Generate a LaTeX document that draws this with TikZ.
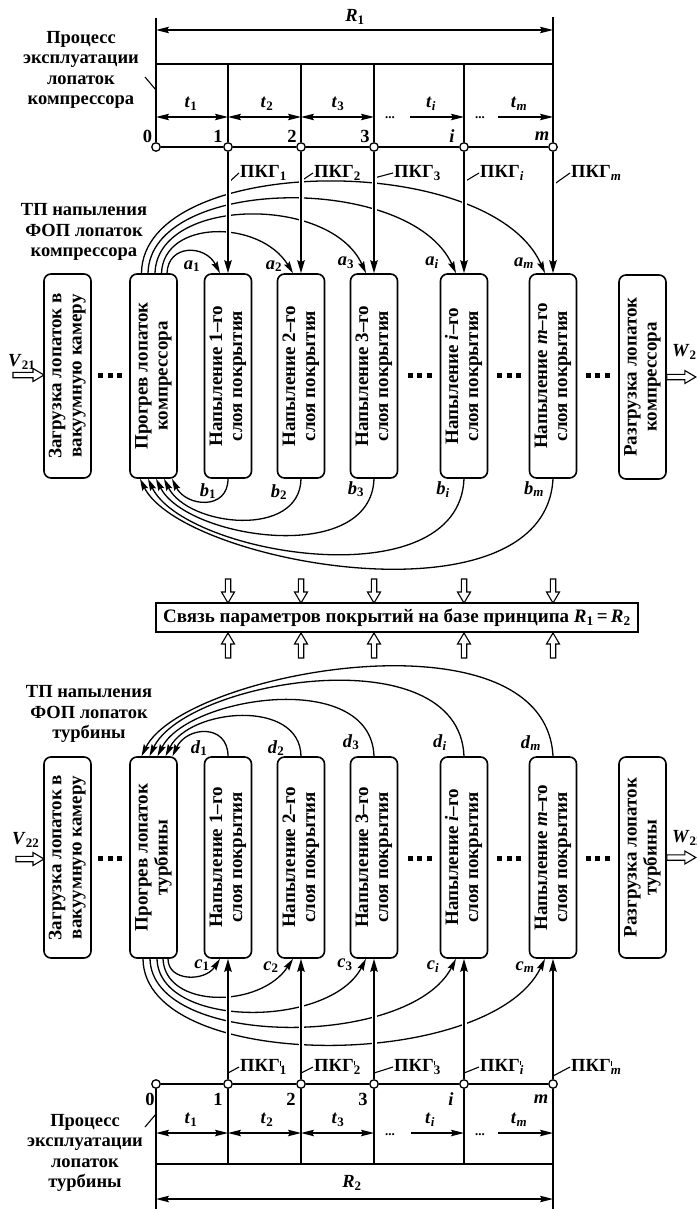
\documentclass[tikz,border=0pt]{standalone}
\usepackage{fontspec}
\setmainfont{Liberation Serif}
\usepackage{graphicx}
\usetikzlibrary{arrows.meta,calc}
\newcommand\bxt[2]{\rotatebox{90}{\begin{tabular}{@{}c@{}}#1\\#2\end{tabular}}}
\newcommand\vrb[2]{\textit{#1}\textsubscript{#2}}
\newcommand\pkgs[1]{ПКГ\textsubscript{#1}}
\newcommand\pkgq[1]{ПКГ\rlap{\textsuperscript{\rule{0.7pt}{4.5pt}}}\textsubscript{#1}}
\tikzset{
  pics/harr/.style={code={\draw[line width=1.1pt,fill=white,line join=miter] (0,-2.7) -- (#1-11,-2.7) -- (#1-11,-6.5) -- (#1,0) -- (#1-11,6.5) -- (#1-11,2.7) -- (0,2.7) -- cycle;}},
  pics/ell/.style={code={\fill (-12,-2.5) rectangle (-7,2.5); \fill (-2.5,-2.5) rectangle (2.5,2.5); \fill (7,-2.5) rectangle (12,2.5);}}
}
\begin{document}
\begin{tikzpicture}[x=1pt,y=-1pt,
  lbl/.style={font=\fontsize{18.5}{20.5}\selectfont\bfseries, inner sep=0pt, align=center},
  vlab/.style={font=\fontsize{18.5}{20}\selectfont\bfseries, inner sep=0pt},
  plab/.style={font=\fontsize{18.5}{20}\selectfont\bfseries, inner sep=1pt, anchor=west},
  box/.style={draw, line width=1.6pt, rounded corners=7pt, minimum width=47pt, inner sep=0pt, font=\fontsize{19}{20}\selectfont\bfseries},
  thk/.style={line width=1.7pt},
  thn/.style={line width=1.1pt},
  arr/.style={line width=1.6pt, -{Stealth[length=13pt,width=7.5pt,inset=2pt]}},
  darr/.style={line width=1.3pt, {Stealth[length=13pt,width=6.5pt,inset=2pt]}-{Stealth[length=13pt,width=6.5pt,inset=2pt]}},
  rarr/.style={line width=1.3pt, -{Stealth[length=13pt,width=6.5pt,inset=2pt]}},
  crv/.style={line width=1.3pt, -{Stealth[length=12pt,width=6.5pt,inset=2pt]}},
  tdot/.style={circle, draw, fill=white, line width=1.3pt, minimum size=8.5pt, inner sep=0pt},
  wgap/.style={draw=white, line width=5pt}
]
\useasboundingbox (0,0) rectangle (696,1209);

% ================= TOP TIMELINE =================
\node[lbl] (proc1) at (81,70) {Процесс\\эксплуатации\\лопаток\\компрессора};
\draw[thn] (145,77) -- (156,90);
\coordinate (ttop) at (0,64);
\coordinate (tarr) at (0,117);
\coordinate (rY1) at (0,30);
\node[tdot] (tc0) at (156,147) {};
\node[tdot] (tc1) at (228,147) {};
\node[tdot] (tc2) at (301,147) {};
\node[tdot] (tc3) at (374,147) {};
\node[tdot] (tc4) at (464,147) {};
\node[tdot] (tc5) at (553,147) {};
\coordinate (rl1) at (156,18);
\coordinate (rr1) at (553,17);
\draw[thn] (rl1) -- (tc0);
\draw[thn] (rr1) -- (tc5);
\draw[thk] (tc0|-ttop) -- (tc5|-ttop);
\foreach \k in {1,...,4} \draw[thk] (tc\k|-ttop) -- (tc\k);
\draw[thk] (tc0) -- (tc1); \draw[thk] (tc1) -- (tc2); \draw[thk] (tc2) -- (tc3);
\draw[thk] (tc3) -- (tc4); \draw[thk] (tc4) -- (tc5);
\draw[darr] (tc0|-rY1) -- (tc5|-rY1);
\node[vlab] (R1) at (355,17) {\vrb{R}{1}};
\draw[darr] (tc0|-tarr) -- (tc1|-tarr);
\draw[darr] (tc1|-tarr) -- (tc2|-tarr);
\draw[darr] (tc2|-tarr) -- (tc3|-tarr);
\coordinate (ti0) at (410,117);
\coordinate (tm0) at (498,117);
\draw[rarr] (ti0) -- (tc4|-tarr);
\draw[rarr] (tm0) -- (tc5|-tarr);
\node[font=\fontsize{13}{13}\selectfont\bfseries, anchor=base] (dd1) at (390,119) {...};
\node[font=\fontsize{13}{13}\selectfont\bfseries, anchor=base] (dd2) at (480,119) {...};
\node[vlab] (tt1) at (191,104) {\vrb{t}{1}};
\node[vlab] (tt2) at (267,104) {\vrb{t}{2}};
\node[vlab] (tt3) at (338,104) {\vrb{t}{3}};
\node[vlab] (tt4) at (431,104) {\vrb{t}{\textit{i}}};
\node[vlab] (tt5) at (519,104) {\vrb{t}{\textit{m}}};
\node[vlab] (n0) at (147.5,136) {0};
\node[vlab] (n1) at (218,136) {1};
\node[vlab] (n2) at (292,136) {2};
\node[vlab] (n3) at (365,136) {3};
\node[vlab] (n4) at (452,136) {\textit{i}};
\node[vlab] (n5) at (542,136) {\textit{m}};

% ПКГ labels
\node[plab] (pk1) at (239,173) {\pkgs{1}};
\node[plab] (pk2) at (313,173) {\pkgs{2}};
\node[plab] (pk3) at (393,173) {\pkgs{3}};
\node[plab] (pk4) at (479,173) {\pkgs{\textit{i}}};
\node[plab] (pk5) at (570,173) {\pkgs{\textit{m}}};
\draw[thn] (228,183) -- (pk1.west);
\draw[thn] (301,181) -- (pk2.west);
\draw[thn] (374,178) -- (pk3.west);
\draw[thn] (464,182) -- (pk4.west);
\draw[thn] (553,185) -- (pk5.west);

\node[lbl] (tp1) at (84,232) {ТП напыления\\ФОП лопаток\\компрессора};

% ================= TOP BOXES =================
\node[box, minimum height=204pt] (za) at (67.5,376) {\bxt{Загрузка лопаток в}{вакуумную камеру}};
\node[box, minimum height=204pt] (pr) at (153.5,376) {\bxt{Прогрев лопаток}{компрессора}};
\node[box, minimum height=204pt] (pa1) at (228,376) {\bxt{Напыление 1–го}{слоя покрытия}};
\node[box, minimum height=204pt] (pa2) at (301,376) {\bxt{Напыление 2–го}{слоя покрытия}};
\node[box, minimum height=204pt] (pa3) at (374,376) {\bxt{Напыление 3–го}{слоя покрытия}};
\node[box, minimum height=204pt] (pa4) at (464,376) {\bxt{Напыление \textit{i}–го}{слоя покрытия}};
\node[box, minimum height=204pt] (pa5) at (553,376) {\bxt{Напыление \textit{m}–го}{слоя покрытия}};
\node[box, minimum height=204pt] (ra) at (642.5,377) {\bxt{Разгрузка лопаток}{компрессора}};
\pic at (110,375) {ell};
\pic at (419.5,375) {ell};
\pic at (509,375) {ell};
\pic at (597.5,375) {ell};
\pic at (13,375) {harr=31};
\pic at (ra.east) {harr=29};
\node[vlab, anchor=west] (V21) at (8,362) {\vrb{V}{21}};
\node[vlab, anchor=west] (W21) at (672,352) {\vrb{W}{21}};

% a-curves
\draw[crv] ($(pr.north)+(13.5,0)$) .. controls +(1,-29) and +(-15,-29) .. ($(pa1.north)+(-8,0)$);
\draw[crv] ($(pr.north)+(8,0)$) .. controls +(2,-54) and +(-33,-54) .. ($(pa2.north)+(-8,0)$);
\draw[crv] ($(pr.north)+(1.5,0)$) .. controls +(2,-76) and +(-36,-79) .. ($(pa3.north)+(-8,0)$);
\draw[crv] ($(pr.north)+(-5.5,0)$) .. controls +(2,-97) and +(-46,-101) .. ($(pa4.north)+(-8,0)$);
\draw[crv] ($(pr.north)+(-12,0)$) .. controls +(1,-119) and +(-55,-124) .. ($(pa5.north)+(-8,0)$);
% vertical ПКГ arrows with gaps
\foreach \k in {1,...,5} {
  \draw[wgap, shorten <=6pt, shorten >=16pt] (tc\k) -- (pa\k.north);
  \draw[arr] (tc\k) -- (pa\k.north);
}
\node[vlab] (a1) at (192,266) {\vrb{a}{1}};
\node[vlab] (a2) at (274,266) {\vrb{a}{2}};
\node[vlab] (a3) at (346,263) {\vrb{a}{3}};
\node[vlab] (a4) at (432,263) {\vrb{a}{\textit{i}}};
\node[vlab] (a5) at (524,263) {\vrb{a}{\textit{m}}};

% b-curves
\draw[crv] (pa1.south) .. controls +(0,32) and +(14,28) .. ($(pr.south)+(18.5,0)$);
\draw[crv] (pa2.south) .. controls +(-1,60) and +(24,48) .. ($(pr.south)+(10.5,0)$);
\draw[crv] (pa3.south) .. controls +(-3,88) and +(30,60) .. ($(pr.south)+(2.5,0)$);
\draw[crv] (pa4.south) .. controls +(-5,122) and +(36,76) .. ($(pr.south)+(-5.5,0)$);
\draw[crv] (pa5.south) .. controls +(-8,150) and +(42,85) .. ($(pr.south)+(-13.5,0)$);
\node[vlab] (b1) at (208,491) {\vrb{b}{1}};
\node[vlab] (b2) at (279,492) {\vrb{b}{2}};
\node[vlab] (b3) at (356,489) {\vrb{b}{3}};
\node[vlab] (b4) at (443,490) {\vrb{b}{\textit{i}}};
\node[vlab] (b5) at (534,489) {\vrb{b}{\textit{m}}};

% ================= MIDDLE =================
\node[draw, line width=1.6pt, minimum width=482pt, minimum height=29pt, inner sep=0pt,
      font=\fontsize{19}{20}\selectfont\bfseries] (sv) at (397,617.5)
      {Связь параметров покрытий на базе принципа \textit{R}\textsubscript{1}\,=\,\textit{R}\textsubscript{2}};
\foreach \x in {228,301,374,464,553} {
  \pic[rotate=-90] at (\x,579) {harr=24};
  \pic[rotate=90] at (\x,658) {harr=25};
}

% ================= BOTTOM BOXES =================
\node[lbl] (tp2) at (89,714) {ТП напыления\\ФОП лопаток\\турбины};
\node[box, minimum height=201pt] (zb) at (67.5,857.5) {\bxt{Загрузка лопаток в}{вакуумную камеру}};
\node[box, minimum height=201pt] (qr) at (153.5,857.5) {\bxt{Прогрев лопаток}{турбины}};
\node[box, minimum height=201pt] (pb1) at (228,857.5) {\bxt{Напыление 1–го}{слоя покрытия}};
\node[box, minimum height=201pt] (pb2) at (301,857.5) {\bxt{Напыление 2–го}{слоя покрытия}};
\node[box, minimum height=201pt] (pb3) at (374,857.5) {\bxt{Напыление 3–го}{слоя покрытия}};
\node[box, minimum height=201pt] (pb4) at (464,857.5) {\bxt{Напыление \textit{i}–го}{слоя покрытия}};
\node[box, minimum height=201pt] (pb5) at (553,857.5) {\bxt{Напыление \textit{m}–го}{слоя покрытия}};
\node[box, minimum height=201pt] (rb) at (642.5,857.5) {\bxt{Разгрузка лопаток}{турбины}};
\pic at (110,858) {ell};
\pic at (419.5,858) {ell};
\pic at (509,858) {ell};
\pic at (597.5,858) {ell};
\pic at (16,859) {harr=28};
\pic at (rb.east) {harr=29};
\node[vlab, anchor=west] (V22) at (12,840) {\vrb{V}{22}};
\node[vlab, anchor=west] (W22) at (672,838) {\vrb{W}{22}};

% d-curves
\draw[crv] (pb1.north) .. controls +(0,-33) and +(14,-30) .. ($(qr.north)+(19,0)$);
\draw[crv] (pb2.north) .. controls +(-1,-58) and +(24,-48) .. ($(qr.north)+(12,0)$);
\draw[crv] (pb3.north) .. controls +(-3,-88) and +(30,-60) .. ($(qr.north)+(4,0)$);
\draw[crv] (pb4.north) .. controls +(-5,-122) and +(36,-76) .. ($(qr.north)+(-4,0)$);
\draw[crv] (pb5.north) .. controls +(-8,-150) and +(42,-85) .. ($(qr.north)+(-12,0)$);
\node[vlab] (d1) at (199,748) {\vrb{d}{1}};
\node[vlab] (d2) at (276,748) {\vrb{d}{2}};
\node[vlab] (d3) at (351,742) {\vrb{d}{3}};
\node[vlab] (d4) at (440,743) {\vrb{d}{\textit{i}}};
\node[vlab] (d5) at (531,743) {\vrb{d}{\textit{m}}};

% c-curves
\draw[crv] ($(qr.south)+(14.5,0)$) .. controls +(0,23) and +(-15,23) .. ($(pb1.south)+(-8,0)$);
\draw[crv] ($(qr.south)+(9.5,0)$) .. controls +(2,50) and +(-33,50) .. ($(pb2.south)+(-8,0)$);
\draw[crv] ($(qr.south)+(3.5,0)$) .. controls +(2,70) and +(-36,70) .. ($(pb3.south)+(-8,0)$);
\draw[crv] ($(qr.south)+(-3.5,0)$) .. controls +(2,90) and +(-46,90) .. ($(pb4.south)+(-8,0)$);
\draw[crv] ($(qr.south)+(-10.5,0)$) .. controls +(1,114) and +(-55,114) .. ($(pb5.south)+(-8,0)$);
\node[vlab] (c1) at (202,965) {\vrb{c}{1}};
\node[vlab] (c2) at (271,967) {\vrb{c}{2}};
\node[vlab] (c3) at (345,965) {\vrb{c}{3}};
\node[vlab] (c4) at (433,967) {\vrb{c}{\textit{i}}};
\node[vlab] (c5) at (525,967) {\vrb{c}{\textit{m}}};

% ================= BOTTOM TIMELINE =================
\coordinate (btop) at (0,1164);
\coordinate (barr) at (0,1133);
\coordinate (rY2) at (0,1199);
\node[tdot] (bc0) at (156,1084) {};
\node[tdot] (bc1) at (228,1084) {};
\node[tdot] (bc2) at (301,1084) {};
\node[tdot] (bc3) at (374,1084) {};
\node[tdot] (bc4) at (464,1084) {};
\node[tdot] (bc5) at (553,1084) {};
\foreach \k in {1,...,5} {
  \draw[wgap, shorten <=6pt, shorten >=16pt] (bc\k) -- (pb\k.south);
  \draw[arr] (bc\k) -- (pb\k.south);
}
\coordinate (rl2) at (156,1209);
\coordinate (rr2) at (553,1209);
\draw[thn] (bc0) -- (rl2);
\draw[thn] (bc5) -- (rr2);
\draw[thk] (bc0|-btop) -- (bc5|-btop);
\foreach \k in {1,...,4} \draw[thk] (bc\k) -- (bc\k|-btop);
\draw[thk] (bc0) -- (bc1); \draw[thk] (bc1) -- (bc2); \draw[thk] (bc2) -- (bc3);
\draw[thk] (bc3) -- (bc4); \draw[thk] (bc4) -- (bc5);
\draw[darr] (bc0|-rY2) -- (bc5|-rY2);
\node[vlab] (R2) at (352,1183) {\vrb{R}{2}};
\draw[darr] (bc0|-barr) -- (bc1|-barr);
\draw[darr] (bc1|-barr) -- (bc2|-barr);
\draw[darr] (bc2|-barr) -- (bc3|-barr);
\coordinate (bi0) at (411,1133);
\coordinate (bm0) at (498,1133);
\draw[rarr] (bi0) -- (bc4|-barr);
\draw[rarr] (bm0) -- (bc5|-barr);
\node[font=\fontsize{13}{13}\selectfont\bfseries, anchor=base] (de1) at (390,1135) {...};
\node[font=\fontsize{13}{13}\selectfont\bfseries, anchor=base] (de2) at (480,1135) {...};
\node[vlab] (bt1) at (191,1120) {\vrb{t}{1}};
\node[vlab] (bt2) at (267,1120) {\vrb{t}{2}};
\node[vlab] (bt3) at (338,1120) {\vrb{t}{3}};
\node[vlab] (bt4) at (430,1120) {\vrb{t}{\textit{i}}};
\node[vlab] (bt5) at (519,1120) {\vrb{t}{\textit{m}}};
\node[vlab] (m0) at (150,1099) {0};
\node[vlab] (m1) at (218,1099) {1};
\node[vlab] (m2) at (291,1099) {2};
\node[vlab] (m3) at (363,1099) {3};
\node[vlab] (m4) at (451,1099) {\textit{i}};
\node[vlab] (m5) at (541,1099) {\textit{m}};
\node[plab] (q1) at (239,1067) {\pkgq{1}};
\node[plab] (q2) at (313,1067) {\pkgq{2}};
\node[plab] (q3) at (393,1067) {\pkgq{3}};
\node[plab] (q4) at (479,1067) {\pkgq{\textit{i}}};
\node[plab] (q5) at (570,1067) {\pkgq{\textit{m}}};
\draw[thn] (228,1073) -- (q1.west);
\draw[thn] (301,1073) -- (q2.west);
\draw[thn] (374,1073) -- (q3.west);
\draw[thn] (464,1073) -- (q4.west);
\draw[thn] (553,1076) -- (q5.west);
\node[lbl] (proc2) at (85,1153) {Процесс\\эксплуатации\\лопаток\\турбины};
\draw[thn] (145,1127) -- (156,1114);
\end{tikzpicture}
\end{document}
